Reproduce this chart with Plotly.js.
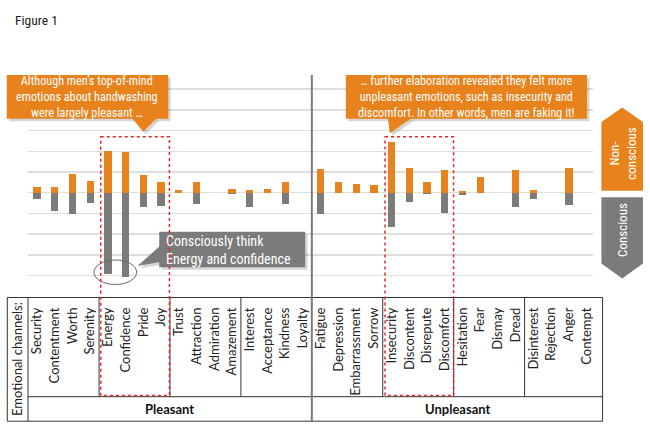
<!DOCTYPE html>
<html>
<head>
<meta charset="utf-8">
<script src="https://cdn.plot.ly/plotly-3.0.1.min.js"></script>
<style>html,body{margin:0;padding:0;background:#fff;}#chart{width:650px;height:425px;}</style>
</head>
<body>
<div id="chart"></div>
<script>
// ---------------- DATA ----------------
const categories = ['Security','Contentment','Worth','Serenity','Energy','Confidence','Pride','Joy',
  'Trust','Attraction','Admiration','Amazement','Interest','Acceptance','Kindness','Loyalty',
  'Fatigue','Depression','Embarrassment','Sorrow','Insecurity','Discontent','Disrepute','Discomfort',
  'Hesitation','Fear','Dismay','Dread','Disinterest','Rejection','Anger','Contempt'];
const nonConscious = [0.29,0.29,0.92,0.58,2.01,1.95,0.85,0.53,0.11,0.53,0,0.16,0.11,0.16,0.53,0,
  1.13,0.53,0.42,0.37,2.46,1.18,0.52,1.10,0.08,0.76,0,1.10,0.13,0,1.21,0];
const conscious = [-0.31,-0.87,-1.05,-0.48,-3.91,-4.07,-0.71,-0.63,0,-0.55,0,-0.05,-0.71,0,-0.55,0,
  -1.01,0,0,0,-1.64,-0.47,-0.08,-1.00,-0.10,0,0,-0.71,-0.32,0,-0.61,0];
const groupNames = ['Pleasant','Unpleasant'];
const rowLabel = 'Emotional channels:';
const figureTitle = 'Figure 1';
const calloutLeft = ['Although men\u2019s top-of-mind','emotions about handwashing','were largely pleasant \u2026'];
const calloutRight = ['\u2026 further elaboration revealed they felt more','unpleasant emotions, such as insecurity and','discomfort. In other words, men are faking it!'];
const calloutGrey = ['Consciously think','Energy and confidence'];
const legendNon = ['Non-','conscious'];
const legendCon = 'Conscious';

// ---------------- LAYOUT GEOMETRY ----------------
const W = 650, H = 425;
const L = 28, R = 593.3, T = 83, B = 297;
const X0 = 37, DX = 17.74, Z = 192.7, DY = 20.7;
const xr = [(L - X0) / DX, (R - X0) / DX];
const yr = [(Z - B) / DY, (Z - T) / DY];
const PX = p => (p - L) / (R - L);
const PY = p => (B - p) / (B - T);
const IX = i => PX(X0 + i * DX);

const ORANGE = '#E8821C', GREY = '#7B7B7B', RED = '#E8262B';
const NARROW = '"Liberation Sans Narrow", "Roboto Condensed", Roboto, sans-serif';
const LABF = 'Lato, "Open Sans", sans-serif';

const traces = [
  {type:'bar', x:categories, y:nonConscious, width:0.41, marker:{color:ORANGE, line:{width:0}}, hoverinfo:'x+y', name:'Non-conscious'},
  {type:'bar', x:categories, y:conscious, width:0.41, marker:{color:GREY, line:{width:0}}, hoverinfo:'x+y', name:'Conscious'}
];

const shapes = [];
const line = (x0,y0,x1,y1,color,width,dash) => shapes.push({type:'line', xref:'paper', yref:'paper',
  x0:x0, y0:y0, x1:x1, y1:y1, line:{color:color, width:width, dash:dash||'solid'}});
const poly = (pts, fill) => {
  const d = pts.map((p,k) => (k ? 'L' : 'M') + PX(p[0]).toFixed(5) + ',' + PY(p[1]).toFixed(5)).join(' ') + ' Z';
  shapes.push({type:'path', xref:'paper', yref:'paper', path:d, fillcolor:fill, line:{width:0}});
};

// table
const tTop = 297.5, tMid = 396.7, tBot = 421.2, tLeft = 7.3, tRight = X0 + 31.9 * DX;
const TC = '#333';
line(PX(tLeft), PY(tTop), PX(tRight), PY(tTop), TC, 1);
line(PX(L), PY(tMid), PX(tRight), PY(tMid), TC, 1);
line(PX(tLeft), PY(tBot), PX(tRight), PY(tBot), TC, 1);
line(PX(tLeft), PY(tTop), PX(tLeft), PY(tBot), TC, 1);
line(PX(L), PY(tTop), PX(L), PY(tBot), TC, 1);
line(PX(tRight), PY(tTop), PX(tRight), PY(tBot), TC, 1);
[3.5, 7.5, 11.5, 19.5, 23.5, 27.5].forEach(g => line(IX(g), PY(tTop), IX(g), PY(tMid), TC, 1));
// separator
line(IX(15.5), PY(75), IX(15.5), PY(tBot), '#7a7a7a', 2);

// callouts (shadow + box + pointer)
const callout = (x0,y0,x1,y1,tri,fill) => {
  const sh = 2.5;
  poly([[x0+sh,y0+sh],[x1+sh,y0+sh],[x1+sh,y1+sh],[x0+sh,y1+sh]], 'rgba(0,0,0,0.16)');
  poly(tri.map(p => [p[0]+sh, p[1]+sh]), 'rgba(0,0,0,0.16)');
  poly([[x0,y0],[x1,y0],[x1,y1],[x0,y1]], fill);
  poly(tri, fill);
};
callout(6.7, 75, 168.3, 118.8, [[132,118],[157,118],[143.3,131.7]], ORANGE);
callout(346, 75, 587.3, 118.8, [[388,118],[412,118],[390,133.3]], ORANGE);
callout(159.3, 231.7, 305.3, 267.3, [[160,246],[160,262],[137.5,266]], GREY);

// ellipse
shapes.push({type:'circle', xref:'paper', yref:'paper', x0:PX(94), x1:PX(136.7), y0:PY(260), y1:PY(284.5),
  line:{color:'#666', width:1}, fillcolor:'rgba(0,0,0,0)'});

// red dashed boxes
const dashBox = (x0,x1) => shapes.push({type:'rect', xref:'paper', yref:'paper', x0:PX(x0), x1:PX(x1),
  y0:PY(136.7), y1:PY(395.5), line:{color:RED, width:1.5, dash:'dot'}, fillcolor:'rgba(0,0,0,0)'});
dashBox(100.8, 169.5);
dashBox(385.2, 453.8);

// right-side arrows
poly([[601.7,122],[622.5,107.5],[643.3,122],[643.3,190.7],[601.7,190.7]], ORANGE);
poly([[601.7,197.3],[643.3,197.3],[643.3,263.5],[622.5,278.5],[601.7,263.5]], GREY);

// annotations
const ann = [];
const txt = (x,y,text,opt) => ann.push(Object.assign({xref:'paper', yref:'paper', x:PX(x), y:PY(y), text:text,
  showarrow:false, xanchor:'center', yanchor:'middle', borderpad:0}, opt||{}));
txt(14, 20.5, figureTitle, {xanchor:'left', font:{family:NARROW, size:13.5, color:'#222'}});
txt(87.5, 97, calloutLeft.join('<br>'), {align:'center', font:{family:NARROW, size:12.2, color:'#fff'}});
txt(466.6, 97, calloutRight.join('<br>'), {align:'center', font:{family:NARROW, size:12.2, color:'#fff'}});
txt(165, 249.5, calloutGrey.join('<br>'), {xanchor:'left', align:'left', font:{family:NARROW, size:14, color:'#fff'}});
txt(623, 153, legendNon.join('<br>'), {textangle:-90, align:'center', font:{family:NARROW, size:13, color:'#fff'}});
txt(622.3, 230, legendCon, {textangle:-90, font:{family:NARROW, size:13, color:'#fff'}});
txt(17, 359, rowLabel, {textangle:-90, font:{family:LABF, size:13, color:'#222'}});
txt((L + IX(15.5)*(R-L) + L) / 2, 409, groupNames[0], {font:{family:LABF, size:13, color:'#111', weight:'bold'}});
txt((IX(15.5)*(R-L) + L + tRight) / 2, 409, groupNames[1], {font:{family:LABF, size:13, color:'#111', weight:'bold'}});

const layout = {
  width:W, height:H, margin:{l:L, r:W-R, t:T, b:H-B, pad:0},
  paper_bgcolor:'#fff', plot_bgcolor:'rgba(0,0,0,0)',
  showlegend:false, barmode:'overlay', bargap:0,
  xaxis:{type:'category', range:xr, showgrid:false, zeroline:false, showline:false, ticks:'',
    tickangle:-90, ticklabelstandoff:7, tickfont:{family:LABF, size:13, color:'#222'}, fixedrange:true},
  yaxis:{range:yr, tickvals:[-4,-3,-2,-1,0,1,2,3,4,5], showticklabels:false, showgrid:true,
    gridcolor:'#dedede', gridwidth:1.5, zeroline:false, showline:false, ticks:'', fixedrange:true},
  shapes:shapes, annotations:ann, font:{family:LABF}
};
Plotly.newPlot('chart', traces, layout, {displayModeBar:false, staticPlot:true});
</script>
</body>
</html>
